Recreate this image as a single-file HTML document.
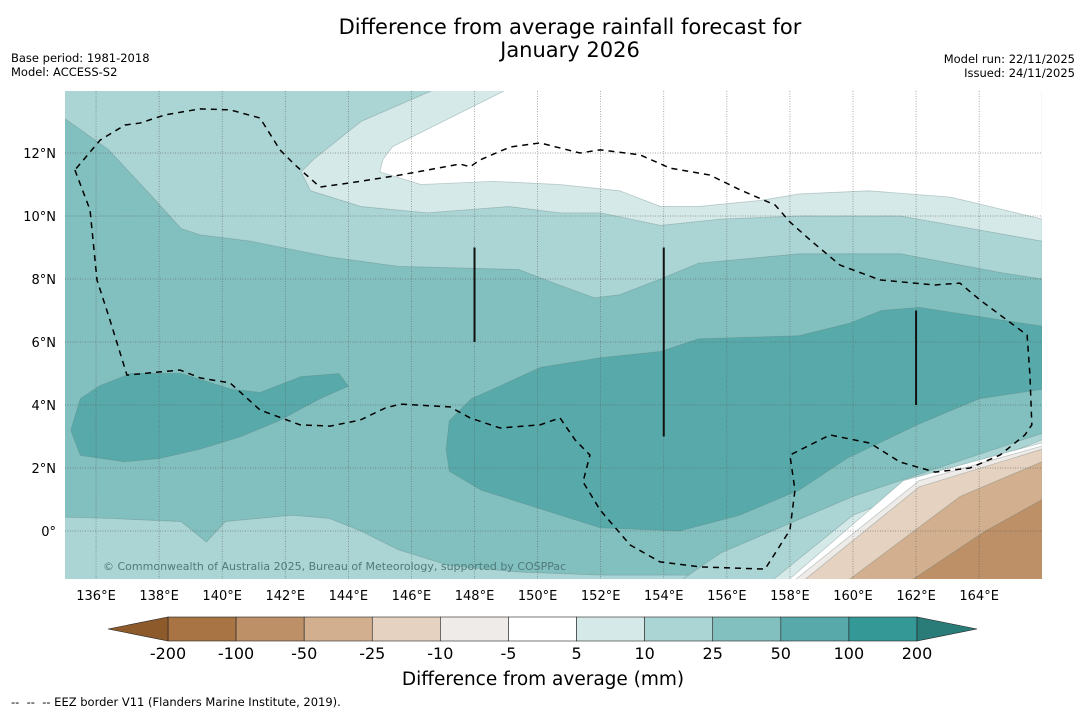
<!DOCTYPE html>
<html><head><meta charset="utf-8"><style>
body{margin:0;background:#fff;width:1085px;height:713px;overflow:hidden;font-family:"DejaVu Sans",sans-serif}
svg{display:block}
</style></head><body>
<svg id="chart" width="1085" height="713" font-family="DejaVu Sans, Liberation Sans, sans-serif">
<text x="570" y="34" font-size="21" text-anchor="middle">Difference from average rainfall forecast for</text>
<text x="570" y="57" font-size="21" text-anchor="middle">January 2026</text>
<text x="11" y="62" font-size="11.5">Base period: 1981-2018</text>
<text x="11" y="76" font-size="11.5">Model: ACCESS-S2</text>
<text x="1075" y="63" font-size="11.5" text-anchor="end">Model run: 22/11/2025</text>
<text x="1075" y="77" font-size="11.5" text-anchor="end">Issued: 24/11/2025</text>
<defs><clipPath id="mc"><rect x="65" y="91" width="977" height="488"/></clipPath></defs>
<g id="map" clip-path="url(#mc)"></g>
<g id="axes"></g>
<g id="cbar"></g>
<text x="543" y="685" font-size="18.5" text-anchor="middle">Difference from average (mm)</text>
<text x="11" y="706" font-size="11.5">-- &nbsp;-- &nbsp;-- EEZ border V11 (Flanders Marine Institute, 2019).</text>
</svg>
<script>
const lonTicks=[136,138,140,142,144,146,148,150,152,154,156,158,160,162,164];
const latTicks=[0,2,4,6,8,10,12];
const cbLabels=["-200","-100","-50","-25","-10","-5","5","10","25","50","100","200"];
const cbColors=["#a87444","#bd9068","#d2b08f","#e5d2c0","#efebe8","#ffffff","#d5e9e8","#abd5d4","#82c0bf","#58aaaa","#339896"];
const regTop10=[[135,14],[166,14],[166,8.0],[164.7,8.2],[161.5,8.8],[158.3,8.8],[155.1,8.5],[153.9,8.0],[152.6,7.5],[151.8,7.4],[150.7,7.8],[149.4,8.3],[145.6,8.4],[143.4,8.7],[140.9,9.2],[139.3,9.4],[138.7,9.6],[137.7,10.7],[136.4,12.1],[135,13.1]];
const regTop5=[[146.7,14],[166,14],[166,9.2],[161.5,10.0],[158.3,10.0],[155.8,9.9],[153.9,9.7],[152,10.1],[150.7,10.1],[149.1,10.3],[146.5,10.1],[144.4,10.3],[142.8,10.8],[142.5,11.4],[142.9,11.8],[144.4,13.0]];
const regTopW=[[149.0,14],[166,14],[166,9.9],[163.1,10.6],[160.5,10.8],[158.3,10.7],[157.1,10.5],[155.1,10.3],[153.9,10.3],[152.6,10.8],[150.7,11.0],[148.6,11.1],[146.3,11.0],[145.0,11.4],[145.1,11.8],[145.4,12.2]];
const regBL10=[[135,-1.6],[135,0.44],[136.4,0.4],[138.7,0.3],[139.5,-0.35],[140.1,0.3],[142.2,0.5],[143.4,0.4],[144.4,0],[145.6,-0.6],[147.2,-1.1],[149.4,-1.3],[152,-1.4],[155.1,-1.4],[156.4,-1.6]];
const regBR10=[[154.5,-1.6],[155.8,-0.7],[160,1.1],[166,3.1],[166,-1.6]];
const regBR5=[[157.4,-1.6],[160,0.5],[166,2.9],[166,-1.6]];
const regBRW=[[157.9,-1.6],[161.6,1.6],[166,2.8],[166,-1.6]];
const regBRg=[[158.1,-1.6],[162.1,1.6],[166,2.7],[166,-1.6]];
const regBRt1=[[158.4,-1.6],[162.1,1.4],[166,2.6],[166,-1.6]];
const regBRt2=[[159.8,-1.6],[163.4,1.1],[166,2.2],[166,-1.6]];
const regBRb=[[161.8,-1.6],[164.2,0],[166,1.0],[166,-1.6]];
const regL50=[[135.2,3.2],[135.5,4.2],[136.1,4.6],[137.1,5.0],[138.7,5.0],[140.3,4.5],[141.2,4.4],[142.5,4.9],[143.7,5.0],[144,4.6],[143.1,4.2],[141.8,3.5],[140.6,3.0],[139.3,2.6],[138,2.3],[136.9,2.2],[135.5,2.4]];
const regR50=[[147.1,2.6],[147.2,3.5],[147.9,4.2],[148.8,4.6],[150.1,5.2],[152,5.5],[153.9,5.7],[155.1,6.1],[158.3,6.2],[159.9,6.6],[160.9,7.0],[162.1,7.1],[166,6.5],[166,4.5],[164,4.2],[162.1,3.4],[159.8,2.3],[158.3,1.3],[156.4,0.5],[154.5,0],[152,0.1],[150.1,0.7],[148.2,1.3],[147.2,1.9]];
const regions=[[regTop10,7],[regTop5,6],[regTopW,5],[regBL10,7],[regBR10,7],[regBR5,6],[regBRW,5],[regBRg,4],[regBRt1,3],[regBRt2,2],[regBRb,1],[regL50,9],[regR50,9]];
const eez=[[135.33,11.46],[135.81,10.19],[136.03,7.97],[136.44,6.70],[136.98,4.95],[138.66,5.11],[139.30,4.86],[140.25,4.70],[141.20,3.84],[142.47,3.37],[143.42,3.33],[144.37,3.52],[145.16,3.90],[145.64,4.03],[147.22,3.94],[147.86,3.59],[148.81,3.27],[150.08,3.37],[150.71,3.59],[151.19,2.89],[151.66,2.41],[151.44,1.56],[151.98,0.67],[152.93,-0.44],[153.88,-0.98],[155.15,-1.14],[157.21,-1.21],[158.0,0.03],[158.16,1.30],[158.0,2.41],[159.27,3.05],[160.54,2.79],[161.49,2.19],[162.60,1.87],[163.71,2.0],[164.66,2.41],[165.45,3.05],[165.67,3.37],[165.61,4.95],[165.52,6.22],[164.03,7.33],[163.39,7.87],[162.60,7.81],[160.86,7.97],[159.59,8.44],[158.64,9.24],[158.0,9.81],[157.53,10.35],[156.42,10.83],[155.46,11.30],[154.20,11.52],[153.25,11.94],[151.98,12.10],[151.34,12.0],[150.08,12.32],[149.13,12.19],[148.17,11.78],[147.86,11.56],[147.54,11.65],[145.64,11.30],[144.05,11.05],[143.10,10.92],[142.31,11.62],[141.83,12.10],[141.20,13.11],[140.25,13.37],[139.30,13.40],[138.19,13.21],[137.39,12.95],[136.92,12.89],[136.13,12.41],[135.33,11.46]];
const boundLines=[[148,9,6],[154,9,3],[162,7,4]];

const NS='http://www.w3.org/2000/svg';
const X=lon=>64.5+(lon-135)*31.54;
const Y=lat=>531-lat*31.5;
function mk(t,a,p){const e=document.createElementNS(NS,t);for(const k in a)e.setAttribute(k,a[k]);p.appendChild(e);return e;}
const map=document.getElementById('map'),ax=document.getElementById('axes'),cb=document.getElementById('cbar');
let bg=mk('rect',{x:65,y:91,width:977,height:488,fill:cbColors[8]},map);


regions.forEach((r,i)=>{
  const p=mk('polygon',{points:r[0].map(q=>X(q[0])+','+Y(q[1])).join(' '),fill:cbColors[r[1]],stroke:'rgba(90,120,120,0.35)','stroke-width':0.8},map);
  
  
});
lonTicks.forEach(l=>{
  const g=mk('line',{x1:X(l),x2:X(l),y1:91,y2:579,stroke:'#555','stroke-width':0.7,'stroke-dasharray':'1,1.5',opacity:0.7},map);
  
  
  const t=mk('text',{x:X(l),y:600,'font-size':13,'text-anchor':'middle'},ax);t.textContent=l+'°E';
  
  
});
latTicks.forEach(l=>{
  const g=mk('line',{x1:65,x2:1042,y1:Y(l),y2:Y(l),stroke:'#555','stroke-width':0.7,'stroke-dasharray':'1,1.5',opacity:0.7},map);
  
  
  const t=mk('text',{x:56,y:Y(l)+5,'font-size':13,'text-anchor':'end'},ax);t.textContent=l===0?'0°':l+'°N';
  
  
});
const ez=mk('polyline',{points:eez.map(q=>X(q[0])+','+Y(q[1])).join(' '),fill:'none',stroke:'#000','stroke-width':1.5,'stroke-dasharray':'6,5'},map);


boundLines.forEach(b=>{
  const l=mk('line',{x1:X(b[0]),x2:X(b[0]),y1:Y(b[1]),y2:Y(b[2]),stroke:'#111','stroke-width':2},map);
  
  
});
const wm=mk('text',{x:103,y:570,'font-size':11,fill:'#4f7a7a'},map);
wm.textContent='© Commonwealth of Australia 2025, Bureau of Meteorology, supported by COSPPac';


const cx0=168,cw=(917-168)/cbColors.length,cy=617,ch=24;
cbColors.forEach((c,i)=>{
  const r=mk('rect',{x:cx0+i*cw,y:cy,width:cw,height:ch,fill:c,stroke:'#222','stroke-width':0.6},cb);
  
  
});
const tl=mk('polygon',{points:`108,${cy+ch/2} ${cx0},${cy} ${cx0},${cy+ch}`,fill:'#8d5a2b',stroke:'#222','stroke-width':0.6},cb);


const tr=mk('polygon',{points:`977,${cy+ch/2} 917,${cy} 917,${cy+ch}`,fill:'#2a7c78',stroke:'#222','stroke-width':0.6},cb);


cbLabels.forEach((s,i)=>{
  const t=mk('text',{x:cx0+i*cw,y:659,'font-size':16,'text-anchor':'middle'},cb);t.textContent=s;
  
  
});
</script>
</body></html>
